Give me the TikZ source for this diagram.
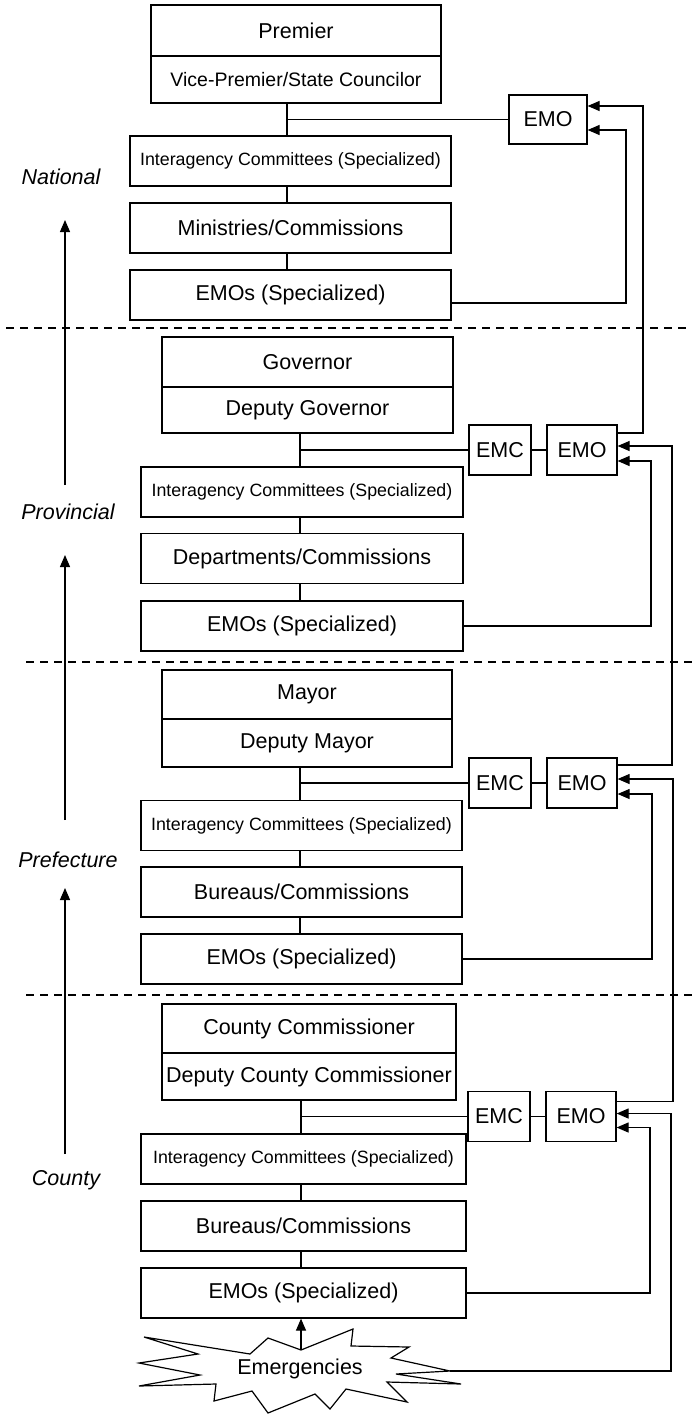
\documentclass[tikz,border=0pt]{standalone}
\usepackage{fontspec}
\setmainfont{Liberation Sans}
\usetikzlibrary{arrows.meta}

\tikzset{
  box/.style={draw, rectangle, inner sep=0pt, line width=1.2pt, font=\fontsize{21.5}{24}\selectfont},
  smallbox/.style={box, font=\fontsize{17.8}{20}\selectfont},
  vicebox/.style={box, font=\fontsize{19.5}{22}\selectfont},
  link/.style={line width=1.2pt},
  flow/.style={line width=1.2pt, -{Triangle[length=12pt,width=10pt]}},
  tier/.style={font=\itshape\fontsize{21.5}{24}\selectfont},
  divider/.style={line width=1.2pt, dash pattern=on 8pt off 6pt}
}

\begin{document}
\begin{tikzpicture}[x=1pt, y=-1pt]
    \useasboundingbox (0,0) rectangle (696,1416);

    \def \wide {321pt};
    \def \emc {62pt};
    \def \emo {70pt};

    % levels on the left
    \node[tier] (natLbl) at (61,177) {National};
    \node[tier] (provLbl) at (68,512) {Provincial};
    \node[tier] (prefLbl) at (68,860) {Prefecture};
    \node[tier] (cntyLbl) at (66,1180) {County};

    \coordinate (upA) at (65,485);  \coordinate (topA) at (65,220);
    \coordinate (upB) at (65,820);  \coordinate (topB) at (65,555);
    \coordinate (upC) at (65,1154); \coordinate (topC) at (65,888);
    \draw[flow] (upA) -- (topA);
    \draw[flow] (upB) -- (topB);
    \draw[flow] (upC) -- (topC);

    \draw[divider] (6,328) -- (687,328);
    \draw[divider] (26,662) -- (696,662);
    \draw[divider] (26,995) -- (696,995);

    % National
    \coordinate (natSpine) at (287,0);
    \node[box, minimum width=290pt, minimum height=51pt] (natHead) at (296,30.5) {Premier};
    \node[vicebox, minimum width=290pt, minimum height=47pt] (natDep) at (296,79.5) {Vice-Premier/State Councilor};
    \node[smallbox, minimum width=\wide, minimum height=50pt] (natInter) at (290.5,161) {Interagency Committees (Specialized)};
    \node[box, minimum width=\wide, minimum height=50pt] (natMin) at (290.5,228) {Ministries/Commissions};
    \node[box, minimum width=\wide, minimum height=50pt] (natEMOs) at (290.5,295) {EMOs (Specialized)};
    \node[box, minimum width=78pt, minimum height=49pt] (natEMO) at (548,119.5) {EMO};

    \draw[link] (natDep.south -| natSpine) -- (natInter.north -| natSpine);
    \draw[link] (natInter.south -| natSpine) -- (natMin.north -| natSpine);
    \draw[link] (natMin.south -| natSpine) -- (natEMOs.north -| natSpine);
    \draw[link] (natEMO.west -| natSpine) -- (natEMO.west);

    % Provincial
    \coordinate (provSpine) at (300,0);
    \node[box, minimum width=291pt, minimum height=50pt] (provHead) at (307.5,362) {Governor};
    \node[box, minimum width=291pt, minimum height=46pt] (provDep) at (307.5,410) {Deputy Governor};
    \node[smallbox, minimum width=322pt, minimum height=50pt] (provInter) at (302,492) {Interagency Committees (Specialized)};
    \node[box, minimum width=322pt, minimum height=50pt] (provDept) at (302,558.5) {Departments/Commissions};
    \node[box, minimum width=322pt, minimum height=50pt] (provEMOs) at (302,626) {EMOs (Specialized)};
    \node[box, minimum width=\emc, minimum height=50pt] (provEMC) at (500,450) {EMC};
    \node[box, minimum width=\emo, minimum height=50pt] (provEMO) at (582,450) {EMO};

    \draw[link] (provDep.south -| provSpine) -- (provInter.north -| provSpine);
    \draw[link] (provInter.south -| provSpine) -- (provDept.north -| provSpine);
    \draw[link] (provDept.south -| provSpine) -- (provEMOs.north -| provSpine);
    \draw[link] (provEMC.west -| provSpine) -- (provEMC.west);
    \draw[link] (provEMC) -- (provEMO);

    % Prefecture
    \coordinate (prefSpine) at (300,0);
    \node[box, minimum width=290pt, minimum height=49pt] (prefHead) at (307,694.5) {Mayor};
    \node[box, minimum width=290pt, minimum height=48pt] (prefDep) at (307,743) {Deputy Mayor};
    \node[smallbox, minimum width=\wide, minimum height=50pt] (prefInter) at (301.5,825.5) {Interagency Committees (Specialized)};
    \node[box, minimum width=\wide, minimum height=50pt] (prefBur) at (301.5,892) {Bureaus/Commissions};
    \node[box, minimum width=\wide, minimum height=50pt] (prefEMOs) at (301.5,959) {EMOs (Specialized)};
    \node[box, minimum width=\emc, minimum height=50pt] (prefEMC) at (500,783) {EMC};
    \node[box, minimum width=\emo, minimum height=50pt] (prefEMO) at (582,783) {EMO};

    \draw[link] (prefDep.south -| prefSpine) -- (prefInter.north -| prefSpine);
    \draw[link] (prefInter.south -| prefSpine) -- (prefBur.north -| prefSpine);
    \draw[link] (prefBur.south -| prefSpine) -- (prefEMOs.north -| prefSpine);
    \draw[link] (prefEMC.west -| prefSpine) -- (prefEMC.west);
    \draw[link] (prefEMC) -- (prefEMO);

    % County
    \coordinate (cntySpine) at (301,0);
    \node[box, minimum width=294pt, minimum height=49pt] (cntyHead) at (309,1028.5) {County Commissioner};
    \node[box, minimum width=294pt, minimum height=47pt] (cntyDep) at (309,1076.5) {Deputy County Commissioner};
    \node[smallbox, minimum width=325pt, minimum height=50pt] (cntyInter) at (303.5,1159) {Interagency Committees (Specialized)};
    \node[box, minimum width=325pt, minimum height=50pt] (cntyBur) at (303.5,1226) {Bureaus/Commissions};
    \node[box, minimum width=325pt, minimum height=50pt] (cntyEMOs) at (303.5,1293) {EMOs (Specialized)};
    \node[box, minimum width=\emc, minimum height=50pt] (cntyEMC) at (499,1116.5) {EMC};
    \node[box, minimum width=\emo, minimum height=50pt] (cntyEMO) at (581,1116.5) {EMO};

    \draw[link] (cntyDep.south -| cntySpine) -- (cntyInter.north -| cntySpine);
    \draw[link] (cntyInter.south -| cntySpine) -- (cntyBur.north -| cntySpine);
    \draw[link] (cntyBur.south -| cntySpine) -- (cntyEMOs.north -| cntySpine);
    \draw[link] (cntyEMC.west -| cntySpine) -- (cntyEMC.west);
    \draw[link] (cntyEMC) -- (cntyEMO);

    % the burst
    \draw[link, fill=white, miter limit=6] (144,1337) -- (250,1354) -- (268,1338) -- (301,1350)
        -- (353,1329) -- (351,1346) -- (409,1347) -- (391,1358) -- (450,1371) -- (396,1374)
        -- (461,1384) -- (387,1382) -- (407,1402) -- (346,1389) -- (330,1409) -- (315,1394)
        -- (268,1413) -- (252,1391) -- (214,1401) -- (216,1384) -- (139,1386) -- (200,1375)
        -- (139,1363) -- (198,1354) -- cycle;
    \node[font=\fontsize{21.5}{24}\selectfont] (emerg) at (300,1369) {Emergencies};
    \coordinate (burstTop) at (301,1350);
    \coordinate (burstTip) at (450,1371);
    \draw[flow] (burstTop) -- (cntyEMOs.south -| burstTop);

    % reporting lines on the right
    \coordinate (natIn) at (626,200);   \coordinate (natOut) at (643,300);
    \coordinate (provIn) at (651,550);  \coordinate (provOut) at (672,600);
    \coordinate (prefIn) at (652,900);  \coordinate (prefOut) at (673,950);
    \coordinate (cntyIn) at (650,1200); \coordinate (cntyOut) at (671,1250);

    \draw[flow] ([yshift=-8pt]natEMOs.east) -| (natIn) |- ([yshift=-10.5pt]natEMO.east);
    \draw[flow] ([yshift=17pt]provEMO.east) -| (natOut) |- ([yshift=13.5pt]natEMO.east);

    \draw[flow] (provEMOs.east) -| (provIn) |- ([yshift=-11pt]provEMO.east);
    \draw[flow] ([yshift=18pt]prefEMO.east) -| (provOut) |- ([yshift=4pt]provEMO.east);

    \draw[flow] (prefEMOs.east) -| (prefIn) |- ([yshift=-11pt]prefEMO.east);
    \draw[flow] ([yshift=15pt]cntyEMO.east) -| (prefOut) |- ([yshift=4pt]prefEMO.east);

    \draw[flow] (cntyEMOs.east) -| (cntyIn) |- ([yshift=-11pt]cntyEMO.east);
    \draw[flow] (burstTip) -| (cntyOut) |- ([yshift=3pt]cntyEMO.east);
\end{tikzpicture}
\end{document}
